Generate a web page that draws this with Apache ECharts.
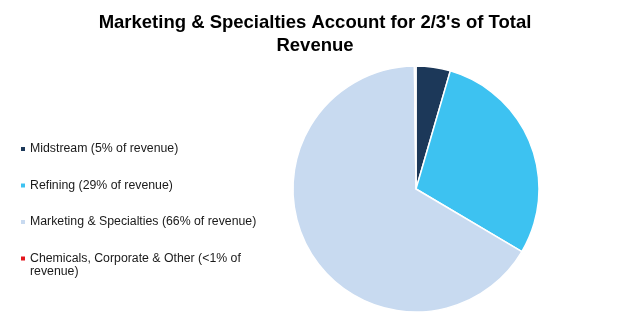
<!DOCTYPE html>
<html><head><meta charset="utf-8">
<script src="https://cdn.jsdelivr.net/npm/echarts@6/dist/echarts.min.js"></script>
<style>html,body{margin:0;padding:0;background:#fff}#c{width:630px;height:325px}</style>
</head><body><div id="c"></div>
<script>
var categories = ["Midstream", "Refining", "Marketing & Specialties", "Chemicals, Corporate & Other"];
var legendLabels = ["Midstream (5% of revenue)", "Refining (29% of revenue)", "Marketing & Specialties (66% of revenue)", "Chemicals, Corporate & Other (<1% of"];
var legendWrap = "revenue)";
var values = [4.5, 29.0, 66.3, 0.2];
var colors = ["#1C3859", "#3DC2F1", "#C8DAF0", "#E3151C"];
var titleText = "Marketing & Specialties Account for 2/3's of Total\nRevenue";

var FONT = 'Liberation Sans, Arial, sans-serif';
var chart = echarts.init(document.getElementById('c'), null, {renderer: 'canvas'});
chart.setOption({
  animation: false,
  title: {
    text: titleText, left: 'center', top: 6,
    textStyle: {fontFamily: FONT, fontSize: 18.5, fontWeight: 'bold', color: '#000', lineHeight: 23}
  },
  color: colors,
  legend: {
    orient: 'vertical', left: 16, top: 137,
    itemWidth: 4, itemHeight: 4, itemGap: 22.5,
    icon: 'rect',
    itemStyle: {borderWidth: 0},
    formatter: function(name){ return legendLabels[categories.indexOf(name)]; },
    textStyle: {fontFamily: FONT, fontSize: 12.3, color: '#1a1a1a', lineHeight: 14}
  },
  graphic: [{
    type: 'text', left: 30, top: 266,
    style: {text: legendWrap, font: '12.3px ' + FONT, fill: '#1a1a1a'}
  }],
  series: [{
    type: 'pie',
    center: [416, 189], radius: 123,
    startAngle: 90, clockwise: true,
    label: {show: false}, labelLine: {show: false},
    itemStyle: {borderColor: '#fff', borderWidth: 1.5},
    data: categories.map(function(n, i){ return {name: n, value: values[i]}; })
  }]
});
</script></body></html>
